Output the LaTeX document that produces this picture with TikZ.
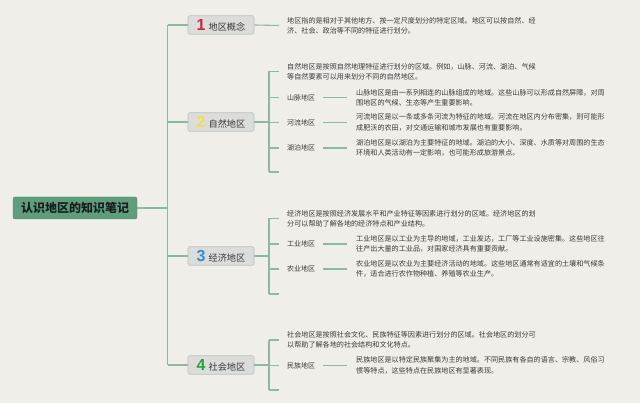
\documentclass[tikz,border=0pt]{standalone}
\usepackage{fontspec}
\setmainfont{Noto Sans CJK SC}
\newfontfamily\numfont{Liberation Sans}
\definecolor{bgC}{HTML}{F0EEE8}
\definecolor{lineC}{HTML}{8DB9A0}
\definecolor{rootC}{HTML}{5C9E7D}
\definecolor{rootB}{HTML}{4E8C6D}
\definecolor{boxC}{HTML}{DCDCDA}
\definecolor{boxB}{HTML}{B9C5BD}
\definecolor{textC}{HTML}{3A3A3A}
\definecolor{textD}{HTML}{1C1C1C}
\definecolor{numA}{HTML}{D8203B}
\definecolor{numB}{HTML}{F2DF4E}
\definecolor{numC}{HTML}{2D8FDD}
\definecolor{numD}{HTML}{22A63A}
\newcommand\tnum[2]{{\numfont\bfseries\fontsize{16}{16}\selectfont\color{#1}#2}}
\begin{document}
\begin{tikzpicture}[x=1pt,y=-1pt,
  conn/.style={draw=lineC, line width=1.1pt},
  rootnode/.style={fill=rootC, draw=rootB, line width=0.4pt, rounded corners=2pt, minimum width=124pt, minimum height=22pt, inner sep=0pt, font=\fontsize{12}{14}\selectfont\bfseries, text=textD},
  topic/.style={fill=boxC, draw=boxB, line width=0.6pt, rounded corners=1.5pt, minimum width=66pt, minimum height=18.5pt, inner sep=0pt, font=\fontsize{9.2}{11}\selectfont, text=textC},
  desc/.style={anchor=west, align=left, inner xsep=8pt, inner ysep=1pt, font=\fontsize{7.1}{10.3}\selectfont, text=textC},
  sdesc/.style={desc, inner xsep=9pt},
  sublabel/.style={anchor=west, inner xsep=8pt, inner ysep=1pt, font=\fontsize{7}{8}\selectfont, text=textC}]
\fill[bgC] (0,0) rectangle (640,403);
\useasboundingbox (0,0) rectangle (640,403);

% root
\node[rootnode] (root) at (75,208) {认识地区的知识笔记};
\coordinate (tk) at (167.5,208);

% topics
\node[topic] (n1) at (221,25) {\tnum{numA}{1}\hspace{3pt}地区概念};
\node[topic] (n2) at (221,122) {\tnum{numB}{2}\hspace{3pt}自然地区};
\node[topic] (n3) at (221,256) {\tnum{numC}{3}\hspace{3pt}经济地区};
\node[topic] (n4) at (221,365) {\tnum{numD}{4}\hspace{3pt}社会地区};

\draw[conn] (root.east) -- (tk);
\draw[conn] (tk |- n1.west) -- (tk |- n4.west);
\foreach \n in {n1,n2,n3,n4} \draw[conn] (tk |- \n.west) -- (\n.west);

% 1 地区概念
\node[desc] (d1) at (279,25.5) {地区指的是相对于其他地方、按一定尺度划分的特定区域。地区可以按自然、经\\济、社会、政治等不同的特征进行划分。};
\draw[conn] (n1.east) -- (d1.west);

% 2 自然地区
\coordinate (b2) at (269,122);
\node[desc] (d2) at (279,71.5) {自然地区是按照自然地理特征进行划分的区域。例如，山脉、河流、湖泊、气候\\等自然要素可以用来划分不同的自然地区。};
\node[sublabel] (s21) at (279,97.5) {山脉地区};
\node[sdesc] (t21) at (347,97.5) {山脉地区是由一系列相连的山脉组成的地域。这些山脉可以形成自然屏障，对周\\围地区的气候、生态等产生重要影响。};
\node[sublabel] (s22) at (279,122.5) {河流地区};
\node[sdesc] (t22) at (347,122.5) {河流地区是以一条或多条河流为特征的地域。河流在地区内分布密集，则可能形\\成肥沃的农田，对交通运输和城市发展也有重要影响。};
\node[sublabel] (s23) at (279,148) {湖泊地区};
\node[sdesc] (t23) at (347,148) {湖泊地区是以湖泊为主要特征的地域。湖泊的大小、深度、水质等对周围的生态\\环境和人类活动有一定影响，也可能形成旅游景点。};
\coordinate (e2) at (279,172);
\draw[conn] (n2.east) -- (b2);
\draw[conn] (b2 |- d2.west) -- (b2 |- e2);
\foreach \t in {d2,s21,s22,s23} \draw[conn] (b2 |- \t.west) -- (\t.west);
\draw[conn] (b2 |- e2) -- (e2);
\foreach \a/\b in {s21/t21,s22/t22,s23/t23} \draw[conn] (\a.east) -- (\b.west);

% 3 经济地区
\coordinate (b3) at (269,256);
\node[desc] (d3) at (279,218.5) {经济地区是按照经济发展水平和产业特征等因素进行划分的区域。经济地区的划\\分可以帮助了解各地的经济特点和产业结构。};
\node[sublabel] (s31) at (279,244) {工业地区};
\node[sdesc] (t31) at (347,244) {工业地区是以工业为主导的地域，工业发达，工厂等工业设施密集。这些地区往\\往产出大量的工业品，对国家经济具有重要贡献。};
\node[sublabel] (s32) at (279,269) {农业地区};
\node[sdesc] (t32) at (347,269) {农业地区是以农业为主要经济活动的地域。这些地区通常有适宜的土壤和气候条\\件，适合进行农作物种植、养殖等农业生产。};
\coordinate (e3) at (279,294);
\draw[conn] (n3.east) -- (b3);
\draw[conn] (b3 |- d3.west) -- (b3 |- e3);
\foreach \t in {d3,s31,s32} \draw[conn] (b3 |- \t.west) -- (\t.west);
\draw[conn] (b3 |- e3) -- (e3);
\foreach \a/\b in {s31/t31,s32/t32} \draw[conn] (\a.east) -- (\b.west);

% 4 社会地区
\coordinate (b4) at (269,365);
\node[desc] (d4) at (279,340) {社会地区是按照社会文化、民族特征等因素进行划分的区域。社会地区的划分可\\以帮助了解各地的社会结构和文化特点。};
\node[sublabel] (s41) at (279,365.5) {民族地区};
\node[sdesc] (t41) at (347,365.5) {民族地区是以特定民族聚集为主的地域。不同民族有各自的语言、宗教、风俗习\\惯等特点，这些特点在民族地区有显著表现。};
\coordinate (e4) at (279,390);
\draw[conn] (n4.east) -- (b4);
\draw[conn] (b4 |- d4.west) -- (b4 |- e4);
\foreach \t in {d4,s41} \draw[conn] (b4 |- \t.west) -- (\t.west);
\draw[conn] (b4 |- e4) -- (e4);
\draw[conn] (s41.east) -- (t41.west);
\end{tikzpicture}
\end{document}
